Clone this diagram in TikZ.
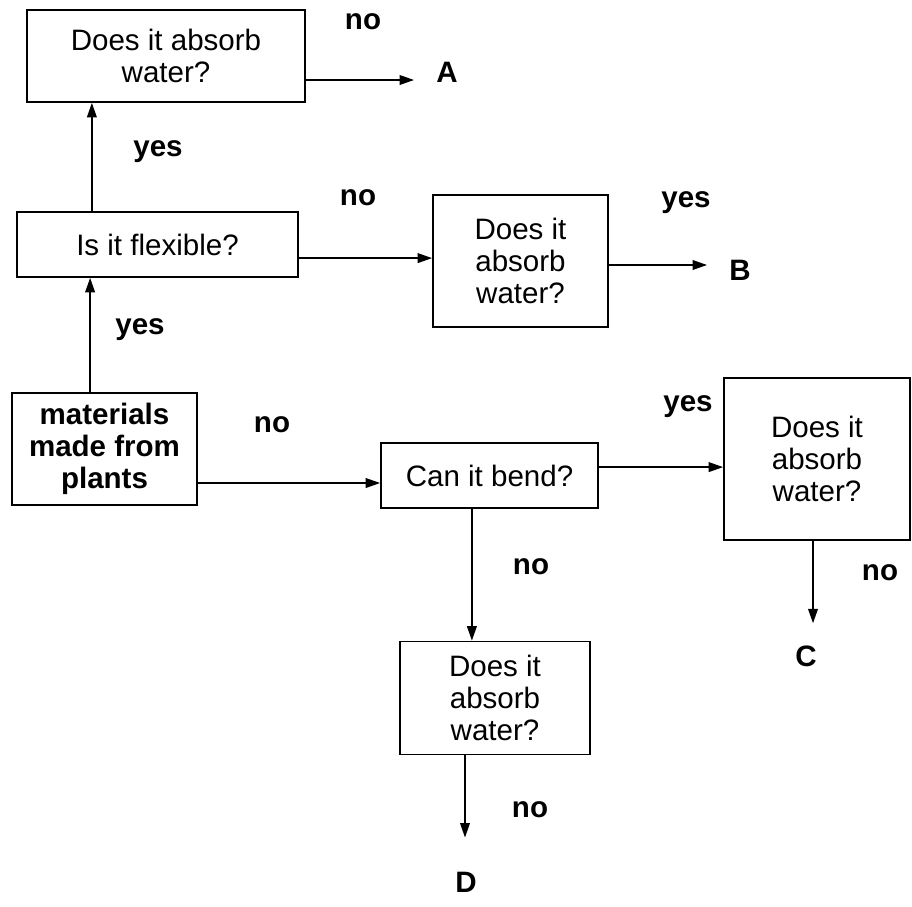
\documentclass[tikz,border=0pt]{standalone}
\usepackage{fontspec}
\setmainfont{Liberation Sans}
\usetikzlibrary{arrows.meta}

\begin{document}
\begin{tikzpicture}
[x=0.025cm,y=-0.025cm,
  boxDecorate/.style={shape=rectangle,draw,line width=1.2pt,align=center,
    inner sep=0pt,font=\fontsize{21}{23}\selectfont},
  labelDecorate/.style={font=\fontsize{21}{23}\selectfont\bfseries},
  endDecorate/.style={labelDecorate,inner sep=0.55cm},
  arrowDecorate/.style={-{Triangle[length=0.36cm,width=0.24cm]},line width=1.2pt}]
\useasboundingbox (0,0) rectangle (912,906);
%% question boxes
\foreach \nodename/\x/\y/\w/\h/\txt in {
  qA/166/56/6.95/2.3/{Does it absorb\\water?},
  flex/157.5/244.5/7.025/1.625/{Is it flexible?},
  qB/520.5/261/4.375/3.3/{Does it\\absorb\\water?},
  bend/489.5/475.5/5.425/1.625/{Can it bend?},
  qC/817/459/4.65/4.05/{Does it\\absorb\\water?},
  qD/495/698/4.75/2.825/{Does it\\absorb\\water?}}
{
  \node (\nodename) at (\x,\y) [boxDecorate,minimum width=\w cm,minimum height=\h cm] {\txt};
}
%% start box
\node (mat) at (104.5,449) [boxDecorate,font=\fontsize{21}{23}\selectfont\bfseries,
  minimum width=4.625cm,minimum height=2.8cm] {materials\\made from\\plants};
%% answers
\foreach \nodename/\x/\y/\txt in {
  noA/363/22/no, yesA/158/152/yes, noB/358/198/no, yesB/686/203/yes,
  yesF/140/330/yes, noM/272/425/no, yesC/688/407/yes, noD/531/567/no,
  noC/880/573/no, noE/530/810/no}
{
  \node (\nodename) at (\x,\y) [labelDecorate] {\txt};
}
%% results
\foreach \nodename/\x/\y in {A/447/72, B/740/270, C/806/656, D/466/882}
{
  \node (\nodename) at (\x,\y) [endDecorate] {\nodename};
}
%% arrows
\draw[arrowDecorate] ([xshift=-0.36cm]mat.north) -- ([xshift=-0.36cm]mat.north |- flex.south);
\draw[arrowDecorate] ([xshift=-1.64cm]flex.north) -- ([xshift=-1.64cm]flex.north |- qA.south);
\draw[arrowDecorate] ([yshift=-0.6cm]qA.east) -- ([yshift=-0.6cm]qA.east -| A.west);
\draw[arrowDecorate] ([yshift=-0.34cm]flex.east) -- ([yshift=-0.34cm]flex.east -| qB.west);
\draw[arrowDecorate] ([yshift=-0.1cm]qB.east) -- ([yshift=-0.1cm]qB.east -| B.west);
\draw[arrowDecorate] ([yshift=-0.85cm]mat.east) -- ([yshift=-0.85cm]mat.east -| bend.west);
\draw[arrowDecorate] ([yshift=0.21cm]bend.east) -- ([yshift=0.21cm]bend.east -| qC.west);
\draw[arrowDecorate] ([xshift=-0.44cm]bend.south) -- ([xshift=-0.44cm]bend.south |- qD.north);
\draw[arrowDecorate] ([xshift=-0.1cm]qC.south) -- ([xshift=-0.1cm]qC.south |- C.north);
\draw[arrowDecorate,shorten >=0.3cm] ([xshift=-0.75cm]qD.south) -- ([xshift=-0.75cm]qD.south |- D.north);
\end{tikzpicture}
\end{document}
